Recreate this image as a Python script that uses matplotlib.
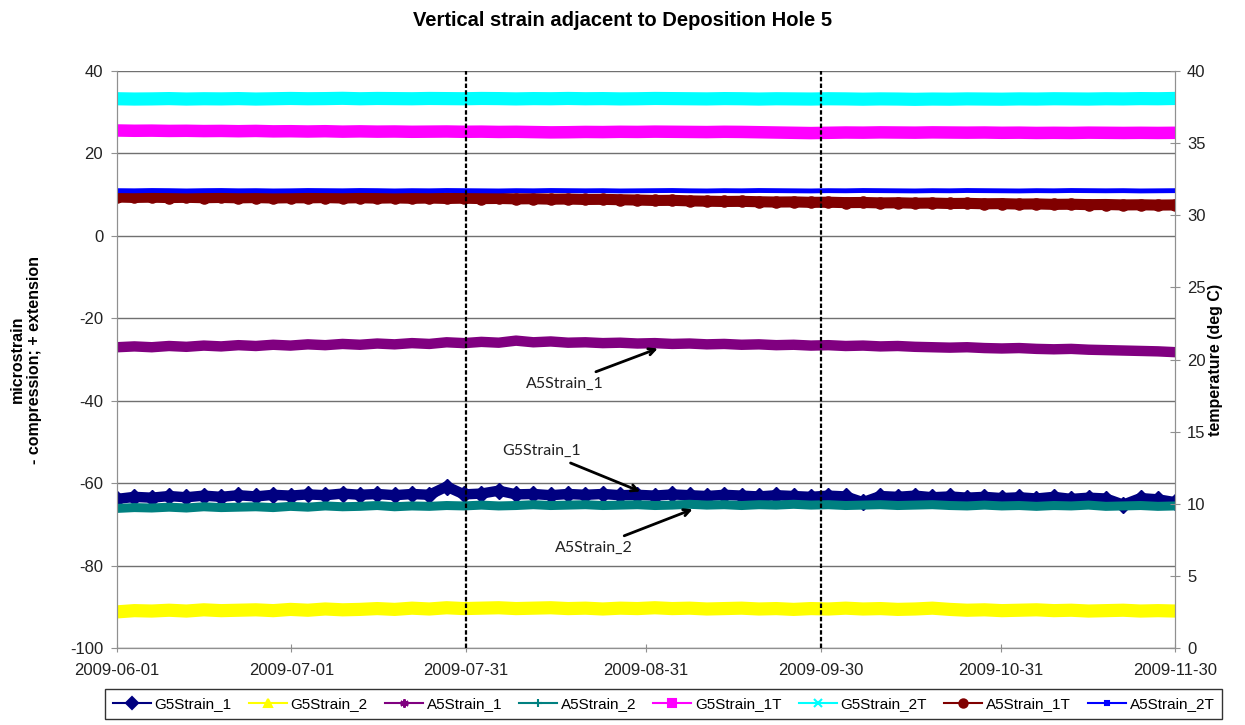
import matplotlib
matplotlib.use("Agg")
import matplotlib.pyplot as plt
import matplotlib.dates as mdates
from matplotlib.lines import Line2D
import pandas as pd

plt.rcParams["font.family"] = ["Liberation Sans", "DejaVu Sans"]
plt.rcParams["axes.unicode_minus"] = False

# roughly 3-day sampling over the record
dates = pd.date_range("2009-06-01", "2009-11-30", periods=62)

# strains, microstrain (left axis)
g5_strain_1 = [-63.8, -63.3, -63.5, -63.1, -63.4, -63.0, -63.3, -62.9, -63.2, -62.8,
               -63.0, -62.7, -62.9, -62.5, -62.8, -62.6, -62.9, -62.6, -62.8, -60.8,
               -62.7, -62.5, -61.8, -62.7, -62.6, -62.9, -62.6, -62.8, -62.6, -62.9,
               -62.8, -63.0, -62.7, -62.9, -63.1, -62.8, -63.0, -63.2, -62.9, -63.1,
               -63.3, -63.0, -63.2, -64.6, -63.1, -63.3, -63.0, -63.4, -63.2, -63.5,
               -63.3, -63.6, -63.4, -63.7, -63.3, -63.8, -63.5, -63.7, -65.2, -63.6,
               -63.9, -64.6]
g5_strain_2 = [-91.2, -90.9, -91.0, -90.8, -91.0, -90.7, -90.9, -90.8, -90.7, -90.9,
               -90.6, -90.8, -90.5, -90.7, -90.6, -90.4, -90.6, -90.3, -90.5, -90.2,
               -90.4, -90.3, -90.2, -90.4, -90.3, -90.2, -90.4, -90.3, -90.5, -90.3,
               -90.4, -90.2, -90.4, -90.3, -90.5, -90.4, -90.3, -90.5, -90.4, -90.6,
               -90.4, -90.5, -90.3, -90.5, -90.4, -90.6, -90.5, -90.3, -90.6, -90.8,
               -90.7, -90.9, -90.8, -90.7, -90.9, -90.8, -91.0, -90.9, -90.8, -91.0,
               -90.9, -91.0]
a5_strain_1 = [-27.0, -26.8, -27.0, -26.7, -26.9, -26.6, -26.8, -26.5, -26.7, -26.4,
               -26.6, -26.3, -26.5, -26.2, -26.4, -26.1, -26.3, -26.0, -26.2, -25.8,
               -26.0, -25.7, -25.9, -25.4, -25.8, -25.6, -25.9, -25.8, -26.0, -25.9,
               -26.1, -26.0, -26.2, -26.1, -26.3, -26.2, -26.4, -26.3, -26.5, -26.4,
               -26.6, -26.5, -26.7, -26.6, -26.8, -26.7, -26.9, -27.0, -27.1, -27.0,
               -27.2, -27.3, -27.2, -27.4, -27.5, -27.4, -27.6, -27.7, -27.8, -27.9,
               -28.0, -28.2]
a5_strain_2 = [-66.1, -65.9, -66.0, -65.8, -66.0, -65.7, -65.9, -65.8, -65.7, -65.9,
               -65.6, -65.8, -65.5, -65.7, -65.6, -65.4, -65.7, -65.5, -65.6, -65.4,
               -65.5, -65.3, -65.5, -65.4, -65.2, -65.4, -65.3, -65.2, -65.4, -65.3,
               -65.2, -65.4, -65.3, -65.1, -65.3, -65.2, -65.4, -65.2, -65.3, -65.1,
               -65.3, -65.2, -65.4, -65.3, -65.2, -65.4, -65.3, -65.2, -65.4, -65.5,
               -65.3, -65.5, -65.4, -65.6, -65.4, -65.5, -65.3, -65.6, -65.5, -65.4,
               -65.6, -65.5]

# gauge temperatures, deg C (right axis)
g5_strain_1t = [35.88, 35.86, 35.87, 35.85, 35.86, 35.84, 35.85, 35.83, 35.85, 35.82,
                35.83, 35.81, 35.83, 35.80, 35.82, 35.80, 35.81, 35.79, 35.80, 35.81,
                35.79, 35.80, 35.78, 35.79, 35.77, 35.75, 35.76, 35.78, 35.77, 35.79,
                35.78, 35.80, 35.79, 35.78, 35.77, 35.79, 35.78, 35.76, 35.74, 35.72,
                35.70, 35.72, 35.74, 35.73, 35.75, 35.74, 35.73, 35.75, 35.74, 35.73,
                35.74, 35.72, 35.73, 35.71, 35.72, 35.71, 35.73, 35.72, 35.71, 35.72,
                35.71, 35.72]
g5_strain_2t = [38.08, 38.06, 38.07, 38.09, 38.06, 38.08, 38.07, 38.09, 38.06, 38.08,
                38.10, 38.08, 38.09, 38.11, 38.08, 38.10, 38.09, 38.08, 38.10, 38.09,
                38.08, 38.10, 38.09, 38.07, 38.09, 38.08, 38.10, 38.08, 38.09, 38.07,
                38.08, 38.10, 38.09, 38.08, 38.07, 38.09, 38.08, 38.06, 38.08, 38.07,
                38.06, 38.08, 38.07, 38.05, 38.07, 38.06, 38.04, 38.06, 38.05, 38.07,
                38.06, 38.05, 38.07, 38.06, 38.08, 38.07, 38.06, 38.08, 38.07, 38.09,
                38.08, 38.10]
a5_strain_1t = [31.27, 31.24, 31.26, 31.23, 31.25, 31.22, 31.24, 31.21, 31.23, 31.20,
                31.22, 31.21, 31.23, 31.20, 31.22, 31.19, 31.21, 31.18, 31.20, 31.17,
                31.19, 31.16, 31.17, 31.14, 31.15, 31.12, 31.13, 31.10, 31.11, 31.08,
                31.06, 31.03, 31.04, 31.00, 30.98, 30.96, 30.97, 30.94, 30.92, 30.93,
                30.90, 30.91, 30.88, 30.89, 30.86, 30.87, 30.84, 30.85, 30.82, 30.83,
                30.80, 30.81, 30.78, 30.79, 30.76, 30.77, 30.74, 30.75, 30.72, 30.73,
                30.71, 30.72]
a5_strain_2t = [31.71, 31.70, 31.72, 31.71, 31.69, 31.71, 31.72, 31.70, 31.71, 31.69,
                31.70, 31.72, 31.71, 31.70, 31.72, 31.71, 31.69, 31.71, 31.70, 31.72,
                31.71, 31.70, 31.69, 31.71, 31.70, 31.72, 31.71, 31.70, 31.71, 31.69,
                31.70, 31.71, 31.72, 31.70, 31.69, 31.71, 31.70, 31.72, 31.71, 31.70,
                31.69, 31.71, 31.70, 31.72, 31.71, 31.70, 31.69, 31.71, 31.70, 31.72,
                31.71, 31.70, 31.69, 31.71, 31.70, 31.72, 31.71, 31.70, 31.71, 31.69,
                31.70, 31.71]

tick_dates = ["2009-06-01", "2009-07-01", "2009-07-31", "2009-08-31",
              "2009-09-30", "2009-10-31", "2009-11-30"]
event_dates = ["2009-07-31", "2009-09-30"]

fig = plt.figure(figsize=(12.45, 7.25), dpi=100)
ax = fig.add_axes([0.094, 0.106, 0.850, 0.796])
ax2 = ax.twinx()

# (name, data, axis, colour, marker, band lw, marker size)
series = [
    ("G5Strain_1", g5_strain_1, ax, "#000080", "D", 7.5, 8),
    ("G5Strain_2", g5_strain_2, ax, "#FFFF00", "^", 9.5, 0),
    ("A5Strain_1", a5_strain_1, ax, "#800080", (6, 2, 0), 7.5, 0),
    ("A5Strain_2", a5_strain_2, ax, "#008080", "+", 6.5, 0),
    ("G5Strain_1T", g5_strain_1t, ax2, "#FF00FF", "s", 9.0, 0),
    ("G5Strain_2T", g5_strain_2t, ax2, "#00FFFF", "x", 9.5, 0),
    ("A5Strain_1T", a5_strain_1t, ax2, "#800000", "o", 8.0, 8),
    ("A5Strain_2T", a5_strain_2t, ax2, "#0000FF", "s", 3.5, 0),
]

handles = []
for name, vals, a, col, mk, lw, ms in series:
    a.plot(dates, vals, color=col, lw=lw, marker=mk if ms else None,
           ms=ms, solid_capstyle="round")
    hms = 3 if name == "A5Strain_2T" else 6
    handles.append(Line2D([], [], color=col, lw=1.5, marker=mk, ms=hms,
                          mew=1.5, label=name))

for d in event_dates:
    ax2.axvline(pd.Timestamp(d), color="black", lw=1.6, ls=(0, (2, 1)), zorder=5)

ax.set_ylim(-100, 40)
ax.set_yticks(range(-100, 41, 20))
ax2.set_ylim(0, 40)
ax2.set_yticks(range(0, 41, 5))
ax.set_xlim(pd.Timestamp("2009-06-01"), pd.Timestamp("2009-11-30"))
ax.set_xticks([pd.Timestamp(d) for d in tick_dates])
ax.xaxis.set_major_formatter(mdates.DateFormatter("%Y-%m-%d"))

ax.yaxis.grid(True, color="#707070", lw=1.0)
ax.set_axisbelow(True)
for a in (ax, ax2):
    a.spines["top"].set_visible(False)
    for s in ("left", "right", "bottom"):
        a.spines[s].set_color("#909090")
    a.tick_params(colors="#909090", labelcolor="#222222", labelsize=12)
ax.tick_params(axis="y", direction="out", length=4, pad=6)
ax.tick_params(axis="x", direction="inout", length=6, pad=8)
ax2.tick_params(axis="y", direction="inout", length=7, pad=5)

fig.suptitle("Vertical strain adjacent to Deposition Hole 5", y=0.985,
             fontsize=14.5, fontweight="bold")
ax.set_ylabel("microstrain\n- compression; + extension", fontsize=11.5,
              fontweight="bold", labelpad=20)
ax2.set_ylabel("temperature (deg C)", fontsize=11.5, fontweight="bold",
               labelpad=2)

ann = dict(arrowstyle="->", color="black", lw=2, shrinkA=4, shrinkB=0)
afont = dict(fontsize=11.5, family=["Lato", "DejaVu Sans"], ha="center",
             va="center", color="#222222")
ax.annotate("A5Strain_1", xy=(pd.Timestamp("2009-09-02"), -27.3),
            xytext=(pd.Timestamp("2009-08-17"), -35.8), arrowprops=ann, **afont)
ax.annotate("G5Strain_1", xy=(pd.Timestamp("2009-08-30"), -62.0),
            xytext=(pd.Timestamp("2009-08-13"), -52.2), arrowprops=ann, **afont)
ax.annotate("A5Strain_2", xy=(pd.Timestamp("2009-09-08"), -66.3),
            xytext=(pd.Timestamp("2009-08-22"), -75.6), arrowprops=ann, **afont)

leg = fig.legend(handles=handles, loc="center", ncol=8,
                 bbox_to_anchor=(0.533, 0.029), fontsize=11, frameon=True,
                 fancybox=False, edgecolor="black", handlelength=2.5,
                 handletextpad=0.25, columnspacing=1.1, borderpad=0.5)
leg.get_frame().set_linewidth(1.0)

fig.savefig("out.png", dpi=100)
